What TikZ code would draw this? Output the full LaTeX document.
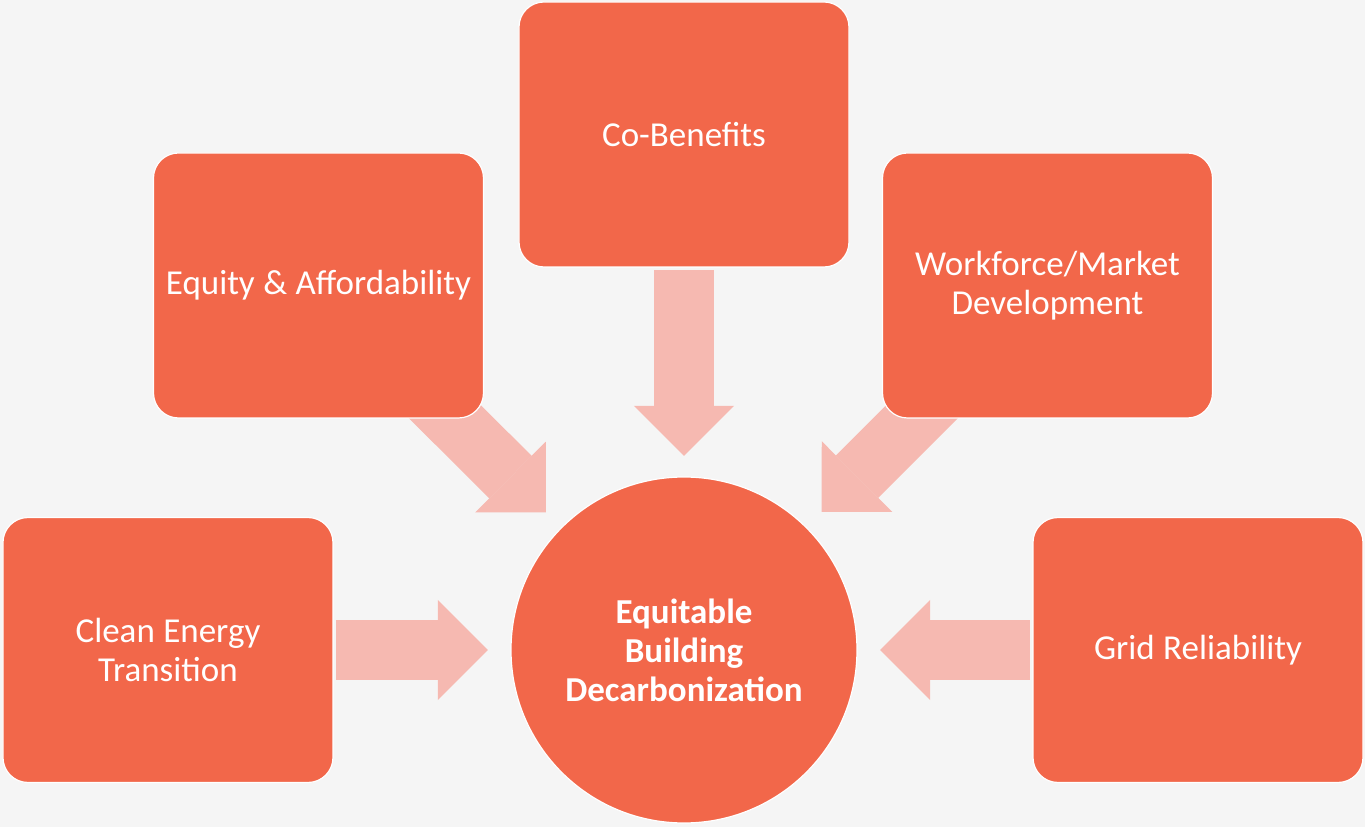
\documentclass[tikz,border=0pt]{standalone}
\usepackage{fontspec}
\setmainfont{Carlito}
\usetikzlibrary{arrows.meta}
\usetikzlibrary{shapes,calc,positioning}
\pgfdeclarelayer{background}
\pgfsetlayers{background,main}
\definecolor{boxred}{RGB}{242,103,74}
\definecolor{arrowpink}{RGB}{246,185,177}
\definecolor{paper}{RGB}{245,245,245}
\newcommand\boxfont{\fontsize{35}{39}\selectfont\spaceskip=8.5pt plus 0pt minus 0pt\relax}
\tikzset{box/.style={draw=white, fill=boxred, line width=1.2pt, rounded corners=25pt, outer sep=0pt, minimum width=330pt, minimum height=265pt, align=center, text=white, font=\boxfont}}
\tikzset{hubnode/.style={circle, draw=white, fill=boxred, line width=1.2pt, outer sep=0pt, minimum size=346pt, align=center, text=white, font=\bfseries\fontsize{35}{39}\selectfont}}
\tikzset{pipe/.style={draw=arrowpink, line width=60pt, -{Triangle[length=50pt, width=100pt, line width=0pt]}}}
\begin{document}
\begin{tikzpicture}[x=1pt,y=1pt]
			\useasboundingbox (-684,650) rectangle (681,-177);
			\node [hubnode]                                          (hub)    {Equitable\\Building\\Decarbonization};
			\node [box, above=210pt of hub]                          (cob)    {Co-Benefits};
			\node [box, above=59pt of hub, xshift=-365.5pt]          (eq)     {Equity \& Affordability};
			\node [box, above=59pt of hub, xshift=363.5pt]           (wf)     {Workforce/Market\\Development};
			\node [box, left=178pt of hub]                           (cet)    {Clean Energy\\Transition};
			\node [box, right=176pt of hub]                          (grid)   {Grid Reliability};
			%
			\begin{pgfonlayer}{background}
			\fill [paper] (-684,650) rectangle (681,-177);
			\path [pipe, shorten <=3pt, shorten >=21pt]    (cob)  -- (hub);
			\path [pipe, shorten <=-45pt, shorten >=22pt]  (eq)   -- (hub);
			\path [pipe, shorten <=-45pt, shorten >=22pt]  (wf)   -- (hub);
			\path [pipe, shorten <=3pt, shorten >=23pt]    (cet)  -- (hub);
			\path [pipe, shorten <=3pt, shorten >=23pt]    (grid) -- (hub);
			\end{pgfonlayer}
\end{tikzpicture}
\end{document}
